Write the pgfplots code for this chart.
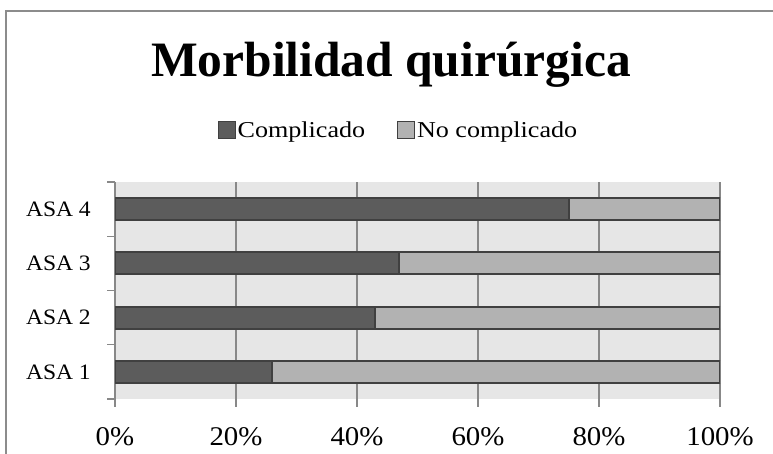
\documentclass[border=0pt]{standalone}
\usepackage{pgfplots}
\pgfplotsset{compat=1.18}
\usepackage{fontspec}
\setmainfont{Liberation Serif}
\newfontfamily\legfont[FakeStretch=1.15]{Liberation Serif}
\newfontfamily\tickfont[FakeStretch=1.07]{Liberation Serif}
\definecolor{bggray}{HTML}{E6E6E6}
\definecolor{darkbar}{HTML}{5C5C5C}
\definecolor{lightbar}{HTML}{B2B2B2}
\definecolor{barline}{HTML}{404040}
\definecolor{gridgray}{HTML}{888888}
\definecolor{framegray}{HTML}{8C8C8C}
\begin{document}
\begin{tikzpicture}[x=1pt,y=1pt]
\path[use as bounding box] (0,0) rectangle (773,454);
\begin{scope}
\clip (0,0) rectangle (773,454);
\draw[framegray, line width=2.5pt] (6,-20) -- (6,443) -- (800,443);
\end{scope}
\node[anchor=base] at (391,377) {\fontsize{49.5}{56}\selectfont\bfseries Morbilidad quirúrgica};
\begin{axis}[
  at={(115pt,55pt)}, anchor=south west,
  scale only axis, width=605pt, height=217pt,
  xbar stacked, bar width=22pt,
  xmin=0, xmax=100, ymin=0.5, ymax=4.5,
  axis background/.style={fill=bggray},
  axis y line*=left, axis x line*=bottom,
  x axis line style={draw=none},
  y axis line style={draw=gridgray, line width=1.2pt},
  xtick={0,20,40,60,80,100},
  xticklabels={0\%,20\%,40\%,60\%,80\%,100\%},
  xmajorgrids, major grid style={draw=gridgray, line width=1.2pt},
  ytick={1,2,3,4},
  yticklabels={ASA 1,ASA 2,ASA 3,ASA 4},
  minor ytick={0.5,1.5,2.5,3.5,4.5},
  tick align=outside,
  major tick length=8pt, minor tick length=8pt,
  major x tick style={draw=gridgray, line width=1.2pt},
  major y tick style={draw=none},
  minor y tick style={draw=gridgray, line width=1.2pt},
  xticklabel style={font=\tickfont\fontsize{27}{30}\selectfont, inner sep=0pt, anchor=north, yshift=-20pt},
  yticklabel style={font=\tickfont\fontsize{22}{26}\selectfont, inner sep=0pt, anchor=east, xshift=-16pt},
  legend style={draw=none, fill=none, at={(0.4686,1.2396)}, anchor=center,
    legend columns=2, font=\legfont\fontsize{22.7}{26}\selectfont,
    /tikz/every even column/.append style={column sep=30pt},
    legend cell align=left, inner sep=0pt},
  legend image code/.code={\draw[#1, line width=0.8pt] (0pt,-8.5pt) rectangle (17pt,8.5pt);},
]
\addplot[fill=darkbar, draw=barline, line width=2.2pt] coordinates {(26,1) (43,2) (47,3) (75,4)};
\addplot[fill=lightbar, draw=barline, line width=2.2pt] coordinates {(74,1) (57,2) (53,3) (25,4)};
\legend{Complicado, No complicado}
\end{axis}
\end{tikzpicture}
\end{document}
